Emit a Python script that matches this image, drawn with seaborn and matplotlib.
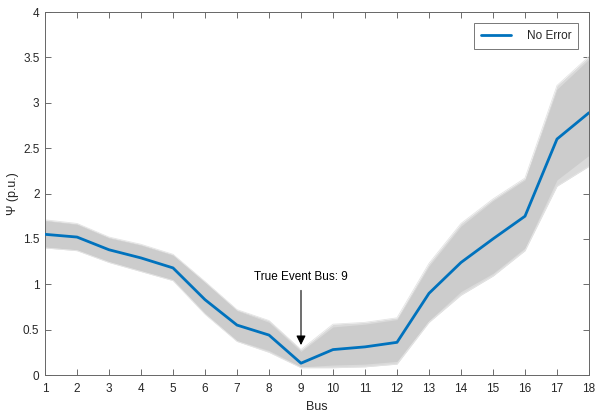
import matplotlib
matplotlib.use("Agg")
import matplotlib.pyplot as plt
import seaborn as sns
import pandas as pd
import numpy as np

bus = list(range(1, 19))
no_error = [1.55, 1.52, 1.38, 1.29, 1.18, 0.83, 0.55, 0.44, 0.13, 0.28, 0.31, 0.36, 0.90, 1.24, 1.50, 1.75, 2.60, 2.89]
band_upper = [1.70, 1.66, 1.51, 1.43, 1.32, 1.02, 0.71, 0.58, 0.26, 0.53, 0.56, 0.61, 1.20, 1.64, 1.92, 2.15, 3.15, 3.48]
band_lower = [1.41, 1.38, 1.25, 1.15, 1.05, 0.68, 0.38, 0.27, 0.09, 0.11, 0.12, 0.15, 0.60, 0.92, 1.12, 1.40, 2.15, 2.42]
outlier_high = [1.71, 1.67, 1.52, 1.44, 1.33, 1.03, 0.72, 0.60, 0.28, 0.56, 0.58, 0.63, 1.23, 1.67, 1.94, 2.17, 3.19, 3.51]
outlier_low = [1.40, 1.37, 1.24, 1.14, 1.04, 0.67, 0.37, 0.25, 0.08, 0.08, 0.09, 0.12, 0.58, 0.88, 1.09, 1.37, 2.08, 2.30]
event_bus = 9
event_label = "True Event Bus: 9"

sns.set_style("white")
plt.rcParams['font.family'] = ['Liberation Sans', 'DejaVu Sans']

fig = plt.figure(figsize=(5.96, 4.13), dpi=100)
ax = fig.add_axes([45/596, 38/413, 544/596, 363/413])

df = pd.DataFrame({"Bus": bus, "Psi": no_error})

ax.fill_between(bus, outlier_low, outlier_high, color="#dadada", lw=0, zorder=0.9)
ax.fill_between(bus, band_lower, band_upper, color="#cccccc", lw=0, zorder=1)
sns.lineplot(x=bus, y=outlier_high, ax=ax, color="#e4e4e4", lw=0.6, zorder=1.5)
sns.lineplot(x=bus, y=outlier_low, ax=ax, color="#e4e4e4", lw=0.6, zorder=1.5)
sns.lineplot(data=df, x="Bus", y="Psi", ax=ax, color="#0072BD", lw=2, label="No Error", zorder=3)

ax.annotate(event_label, xy=(event_bus, 0.33), xytext=(event_bus, 1.08),
            ha="center", va="center", fontsize=8.5, color="#000000",
            arrowprops=dict(arrowstyle="-|>", color="black", lw=0.8,
                            mutation_scale=14, shrinkA=3, shrinkB=0))

ax.set_xlim(1, 18)
ax.set_ylim(0, 4)
ax.set_xticks(bus)
ax.set_yticks([0, 0.5, 1, 1.5, 2, 2.5, 3, 3.5, 4])
ax.set_yticklabels(["0", "0.5", "1", "1.5", "2", "2.5", "3", "3.5", "4"])
ax.set_xlabel("Bus", fontsize=9, color="#262626", labelpad=4)
ax.set_ylabel("Ψ (p.u.)", fontsize=9, color="#262626", labelpad=3)

ax.tick_params(direction="in", length=4, width=0.6, colors="#555555",
               labelcolor="#262626", labelsize=8.5, top=True, right=True,
               bottom=True, left=True)
ax.tick_params(axis="x", pad=6)
ax.tick_params(axis="y", pad=4)
for s in ax.spines.values():
    s.set_color("#666666")
    s.set_linewidth(0.7)
    s.set_visible(True)

leg = ax.legend(loc="upper right", fontsize=8.5, frameon=True, fancybox=False,
                handlelength=2.6, borderaxespad=0.9, borderpad=0.6,
                handletextpad=1.3)
leg.get_frame().set_edgecolor("#555555")
leg.get_frame().set_linewidth(0.7)

fig.savefig("out.png", dpi=100)
